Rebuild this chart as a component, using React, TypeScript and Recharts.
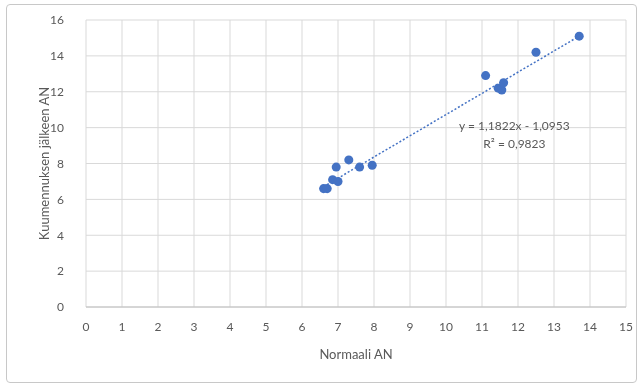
import {
  CartesianGrid,
  ReferenceDot,
  Scatter,
  ScatterChart,
  XAxis,
  YAxis,
} from "recharts";

const normaali = [6.6, 6.7, 6.85, 6.95, 7.0, 7.3, 7.6, 7.95, 11.1, 11.45, 11.55, 11.6, 12.5, 13.7];
const kuumennus = [6.6, 6.6, 7.1, 7.8, 7.0, 8.2, 7.8, 7.9, 12.9, 12.2, 12.1, 12.5, 14.2, 15.1];
const xTicks = [0, 1, 2, 3, 4, 5, 6, 7, 8, 9, 10, 11, 12, 13, 14, 15];
const yTicks = [0, 2, 4, 6, 8, 10, 12, 14, 16];
const slope = 1.1822;
const intercept = -1.0953;

const points = normaali.map((x, i) => ({ x, y: kuumennus[i] }));
const xMin = Math.min(...normaali);
const xMax = Math.max(...normaali);
const trend = [
  { x: xMin, y: slope * xMin + intercept },
  { x: xMax, y: slope * xMax + intercept },
];

const font = "Lato, 'Open Sans', sans-serif";
const gray = "#595959";

const App = () => {
  return (
    <>
      <div style={{ position: "fixed", left: 0, top: 0, width: 644, height: 388 }}>
        <ScatterChart
          width={644}
          height={388}
          margin={{ top: 20, right: 18, bottom: 51, left: 46 }}
          style={{ fontFamily: font }}
        >
          <CartesianGrid stroke="#d9d9d9" />
          <XAxis
            type="number"
            dataKey="x"
            domain={[0, 15]}
            ticks={xTicks}
            interval={0}
            height={30}
            tickLine={false}
            tickSize={0}
            tickMargin={15}
            axisLine={{ stroke: "#bfbfbf" }}
            tick={{ fill: gray, fontSize: 12 }}
            label={{ value: "Normaali AN", position: "insideBottom", offset: -22, fill: gray, fontSize: 13 }}
          />
          <YAxis
            type="number"
            dataKey="y"
            domain={[0, 16]}
            ticks={yTicks}
            interval={0}
            width={40}
            tickLine={false}
            axisLine={false}
            tickSize={0}
            tickMargin={22}
            tick={{ fill: gray, fontSize: 12 }}
            label={{
              value: "Kuumennuksen jälkeen AN",
              angle: -90,
              position: "insideLeft",
              offset: -2,
              style: { textAnchor: "middle" },
              fill: gray,
              fontSize: 13,
            }}
          />
          <Scatter
            data={trend}
            line={{ stroke: "#4472C4", strokeWidth: 1.5, strokeDasharray: "2 2" }}
            shape={() => null}
            isAnimationActive={false}
          />
          <Scatter data={points} fill="#4472C4" isAnimationActive={false} shape="circle" r={5} />
          <ReferenceDot
            x={11.9}
            y={10.1}
            r={0}
            label={{ value: "y = 1,1822x - 1,0953", fill: gray, fontSize: 12, position: "center" }}
          />
          <ReferenceDot
            x={11.9}
            y={9.1}
            r={0}
            label={{ value: "R² = 0,9823", fill: gray, fontSize: 12, position: "center" }}
          />
        </ScatterChart>
      </div>
      <div
        style={{
          position: "fixed",
          left: 6,
          top: 4,
          width: 631,
          height: 379,
          boxSizing: "border-box",
          border: "1px solid #c8c8c8",
          borderRadius: 4,
          pointerEvents: "none",
          zIndex: 10,
        }}
      />
    </>
  );
};

export default App;
